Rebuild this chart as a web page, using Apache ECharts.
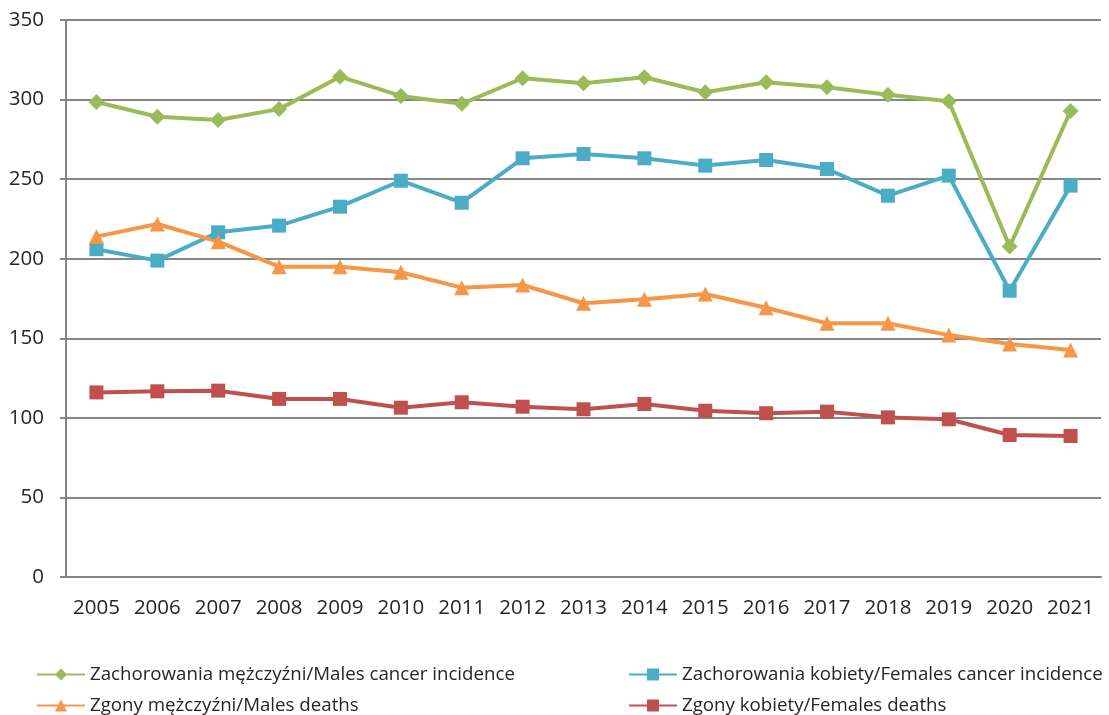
<!DOCTYPE html>
<html>
<head>
<meta charset="utf-8">
<script src="https://cdn.jsdelivr.net/npm/echarts@6/dist/echarts.min.js"></script>
<style>
html,body{margin:0;padding:0;background:#fff;}
#chart{width:1109px;height:715px;}
</style>
</head>
<body>
<div id="chart"></div>
<script>
const years = ['2005','2006','2007','2008','2009','2010','2011','2012','2013','2014','2015','2016','2017','2018','2019','2020','2021'];
const malesIncidence = [298.5,289.2,287.2,294,314.4,302.3,297.3,313.4,310.2,314,304.6,310.9,307.7,303,299,207.6,292.8];
const femalesIncidence = [206,198.8,216.6,220.8,232.7,249,235.2,263.1,265.8,263.1,258.5,262,256.4,239.6,252.2,179.9,245.9];
const malesDeaths = [213.9,221.8,210.7,195,195,191.5,181.8,183.5,172,174.5,177.8,169.2,159.4,159.4,152,146.4,142.6];
const femalesDeaths = [116,116.7,117.1,111.9,111.9,106.4,109.8,107,105.4,108.7,104.5,102.9,103.9,100.3,99.1,89.2,88.6];
const seriesNames = [
  'Zachorowania mężczyźni/Males cancer incidence',
  'Zachorowania kobiety/Females cancer incidence',
  'Zgony mężczyźni/Males deaths',
  'Zgony kobiety/Females deaths'
];
const colors = ['#9BBB59','#4BACC6','#F79646','#C0504D'];
const font = 'Open Sans';

const chart = echarts.init(document.getElementById('chart'), null, {renderer:'canvas'});
function mk(i, data, symbol, size){
  return {
    name: seriesNames[i], type:'line', data: data,
    symbol: symbol, symbolSize: size, showSymbol:true,
    lineStyle:{color:colors[i], width:4},
    itemStyle:{color:colors[i]},
    animation:false
  };
}
function legendAt(left, names){
  return {
    left:left, top:665, height:200, orient:'vertical',
    itemWidth:48, itemHeight:15, itemGap:12, padding:0,
    textStyle:{fontFamily:font, fontSize:18.7, color:'#262626', lineHeight:14},
    selectedMode:false, data:names
  };
}
chart.setOption({
  animation:false,
  grid:{left:66, right:8, top:20, bottom:138, containLabel:false},
  legend:[
    legendAt(36, [seriesNames[0], seriesNames[2]]),
    legendAt(628, [seriesNames[1], seriesNames[3]])
  ],
  xAxis:{
    type:'category', data:years, boundaryGap:true,
    axisLine:{lineStyle:{color:'#868686', width:2}},
    axisTick:{show:false},
    axisLabel:{interval:0, fontFamily:font, fontSize:20.5, color:'#262626', margin:21}
  },
  yAxis:{
    type:'value', min:0, max:350, interval:50,
    axisLine:{show:true, lineStyle:{color:'#868686', width:2}},
    axisTick:{show:true, length:6, lineStyle:{color:'#868686', width:2}},
    splitLine:{lineStyle:{color:'#868686', width:2}},
    axisLabel:{fontFamily:font, fontSize:20.5, color:'#262626', margin:22}
  },
  series:[
    mk(0, malesIncidence, 'diamond', 16),
    mk(1, femalesIncidence, 'rect', 14),
    mk(2, malesDeaths, 'triangle', 15),
    mk(3, femalesDeaths, 'rect', 14)
  ]
});
</script>
</body>
</html>
